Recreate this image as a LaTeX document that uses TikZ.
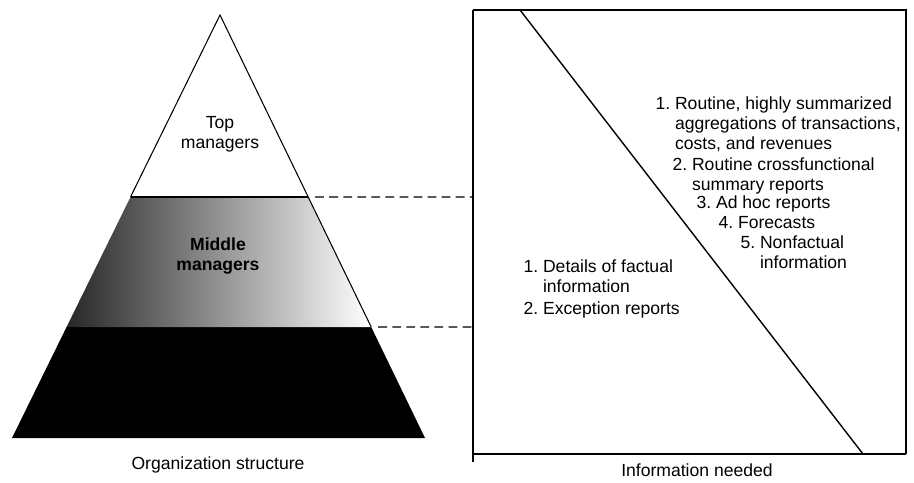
\documentclass[tikz,border=0pt]{standalone}
\usepackage{fontspec}
\setmainfont{Liberation Sans}
\usetikzlibrary{positioning,calc}

\newcommand{\infoitem}[2]{\begin{tabular}[t]{@{}l@{\ }l@{}}#1&#2\end{tabular}}

\begin{document}
\begin{tikzpicture}[x=0.02cm,y=-0.02cm,semithick,
    infotext/.style={font=\fontsize{10}{11.2}\selectfont,inner sep=0pt,anchor=base west},
    label/.style={font=\fontsize{10}{11.2}\selectfont,inner sep=0pt,align=center},
    levelline/.style={dashed,dash pattern=on 5pt off 3pt,line width=0.7pt,shorten <=4pt},
    boxthick/.style={line width=1.7pt},
    boxthin/.style={line width=0.9pt}]
  \useasboundingbox (0,0) rectangle (914,483);
  % pyramid
  \coordinate (apex) at (220,15);
  \coordinate (baseL) at (12,438);
  \coordinate (baseR) at (425,438);
  \coordinate (topL) at ($(apex)!0.430!(baseL)$);
  \coordinate (topR) at ($(apex)!0.430!(baseR)$);
  \coordinate (midL) at ($(apex)!0.7376!(baseL)$);
  \coordinate (midR) at ($(apex)!0.7376!(baseR)$);
  \fill[black] (midL) -- (midR) -- (baseR) -- (baseL) -- cycle;
  \shade[left color=black!85,middle color=black!30,right color=white]
    (topL) -- (topR) -- (midR) -- (midL) -- cycle;
  \draw (topL) -- (apex) -- (topR) -- (midR);
  \draw[line width=1.2pt] (topL) -- (topR);
  \node[label] (top) at (220,134) {Top\\managers};
  \node[label,font=\fontsize{10}{11.2}\selectfont\bfseries] (middle) at (218,256) {Middle\\managers};
  \node[label] (orgcap) at (218,465) {Organization structure};
  % information box
  \coordinate (boxNW) at (473,10);
  \coordinate (boxNE) at (906,10);
  \coordinate (boxSE) at (906,454);
  \coordinate (boxSW) at (473,454);
  \coordinate (boxTick) at (473,462);
  \coordinate (boxTop) at (473,197);
  \coordinate (boxMid) at (473,327);
  \draw[boxthin] (boxNW) -- (boxNE) -- (boxSE);
  \draw[boxthick] (boxNW) -- (boxTick);
  \draw[boxthick] (boxSW) -- (boxSE);
  \coordinate (diagTop) at (520,10);
  \coordinate (diagBot) at (863,454);
  \draw[line width=0.8pt] (diagTop) -- (diagBot);
  \draw[levelline] (topR) -- (boxTop);
  \draw[levelline] (midR) -- (boxMid);
  % reports above the line
  \node[infotext] (rep1) at (655,110) {\infoitem{1.}{Routine, highly summarized\\ & aggregations of transactions,\\ & costs, and revenues}};
  \node[infotext] (rep2) at (672,171) {\infoitem{2.}{Routine crossfunctional\\ & summary reports}};
  \node[infotext] (rep3) at (696,209) {\infoitem{3.}{Ad hoc reports}};
  \node[infotext] (rep4) at (718,229) {\infoitem{4.}{Forecasts}};
  \node[infotext] (rep5) at (740,249) {\infoitem{5.}{Nonfactual\\ & information}};
  % reports below the line
  \node[infotext] (det1) at (523,273) {\infoitem{1.}{Details of factual\\ & information}};
  \node[infotext] (det2) at (523,315) {\infoitem{2.}{Exception reports}};
  \node[label] (infocap) at (697,470) {Information needed};
\end{tikzpicture}
\end{document}
